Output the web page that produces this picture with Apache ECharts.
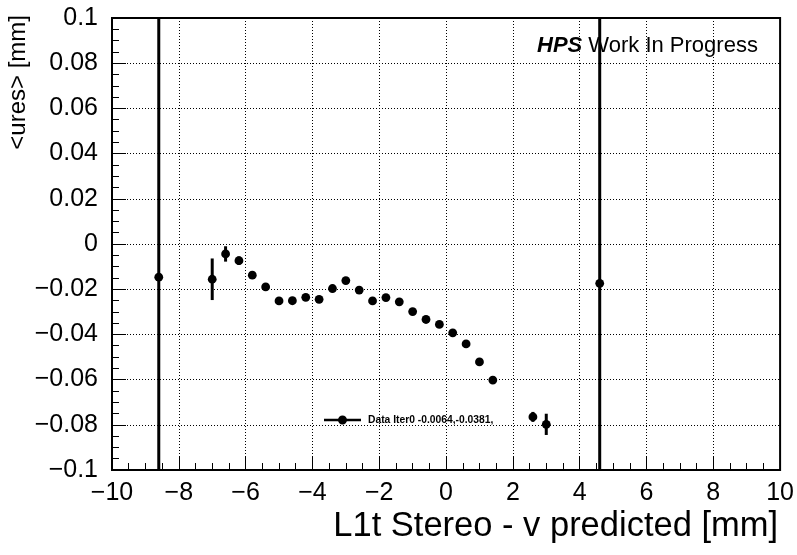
<!DOCTYPE html>
<html>
<head>
<meta charset="utf-8">
<script src="https://cdn.jsdelivr.net/npm/echarts@6/dist/echarts.min.js"></script>
<style>
html,body{margin:0;padding:0;background:#fff;}
#chart{width:797px;height:555px;}
</style>
</head>
<body>
<div id="chart"></div>
<script>
// Data
var xBins = [-8.6, -7.0, -6.6, -6.2, -5.8, -5.4, -5.0, -4.6, -4.2, -3.8, -3.4, -3.0, -2.6, -2.2, -1.8, -1.4, -1.0, -0.6, -0.2, 0.2, 0.6, 1.0, 1.4, 2.6, 3.0, 4.6];
var meanRes = [-0.0147, -0.0156, -0.0044, -0.0074, -0.0138, -0.0190, -0.0252, -0.0251, -0.0236, -0.0245, -0.0197, -0.0162, -0.0204, -0.0252, -0.0237, -0.0256, -0.0299, -0.0334, -0.0356, -0.0393, -0.0442, -0.0522, -0.0602, -0.0765, -0.0798, -0.0174];
var resErr = [1.0, 0.0092, 0.0034, 0.0019, 0.0014, 0.0014, 0.0012, 0.0012, 0.0012, 0.0012, 0.0012, 0.0014, 0.0012, 0.0012, 0.0012, 0.0012, 0.0012, 0.0012, 0.0012, 0.0012, 0.0012, 0.0012, 0.0014, 0.0022, 0.0047, 1.0];
var seriesName = 'Data Iter0 -0.0064,-0.0381,';
var xTitle = 'L1t Stereo - v predicted [mm]';
var yTitle = '<ures> [mm]';

var data = xBins.map(function (x, i) { return [x, meanRes[i], resErr[i]]; });

function rootLabel(v, digits) {
  var n = Number(v.toFixed(digits));
  var s = String(Math.abs(n));
  return (n < 0 ? '\u2212' : '') + s;
}

var chart = echarts.init(document.getElementById('chart'), null, {renderer: 'canvas'});
var font = '"Liberation Sans", Arial, Helvetica, sans-serif';

chart.setOption({
  animation: false,
  backgroundColor: '#fff',
  textStyle: {fontFamily: font},
  title: {
    text: '{b|HPS} Work In Progress',
    left: 532,
    top: 30,
    textStyle: {
      fontFamily: font,
      fontSize: 22,
      fontWeight: 'normal',
      color: '#000',
      rich: {
        b: {fontFamily: font, fontSize: 22, fontWeight: 'bold', fontStyle: 'italic', color: '#000'}
      }
    }
  },
  legend: {
    left: 319,
    top: 410,
    itemWidth: 37,
    itemHeight: 9,
    data: [{
      name: seriesName,
      icon: 'path://M0,3.3 H37 V5.7 H0 Z M14,4.5 A4.5,4.5 0 1,1 23,4.5 A4.5,4.5 0 1,1 14,4.5 Z'
    }],
    textStyle: {fontFamily: font, fontSize: 10.3, fontWeight: 'bold', color: '#000', padding: [0, 0, 0, 2]}
  },
  grid: {
    left: 112, right: 16, top: 18, bottom: 85,
    show: true, borderColor: '#000', borderWidth: 2, backgroundColor: 'transparent',
    containLabel: false
  },
  xAxis: {
    type: 'value',
    min: -10, max: 10, interval: 2,
    name: xTitle,
    nameLocation: 'end',
    nameGap: -2,
    nameTextStyle: {fontFamily: font, fontSize: 34.5, color: '#000', align: 'right', verticalAlign: 'top', padding: [39, 0, 0, 0]},
    axisLine: {show: true, onZero: false, lineStyle: {color: '#000', width: 2}},
    axisTick: {show: true, inside: true, length: 13, lineStyle: {color: '#000', width: 1}},
    minorTick: {show: true, splitNumber: 4, length: 7, lineStyle: {color: '#000', width: 1}},
    axisLabel: {fontFamily: font, fontSize: 25, color: '#000', margin: 11,
      formatter: function (v) { return rootLabel(v, 0); }},
    splitLine: {show: true, lineStyle: {color: '#000', width: 1, type: [1, 2]}}
  },
  yAxis: {
    type: 'value',
    min: -0.1, max: 0.1, interval: 0.02,
    axisLine: {show: true, onZero: false, lineStyle: {color: '#000', width: 2}},
    axisTick: {show: true, inside: true, length: 14, lineStyle: {color: '#000', width: 1}},
    minorTick: {show: true, splitNumber: 4, length: 7, lineStyle: {color: '#000', width: 1}},
    axisLabel: {fontFamily: font, fontSize: 25, color: '#000', margin: 14,
      formatter: function (v) { return rootLabel(v, 2); }},
    splitLine: {show: true, lineStyle: {color: '#000', width: 1, type: [1, 2]}}
  },
  graphic: [{
    type: 'text',
    x: 18, y: 15,
    rotation: Math.PI / 2,
    style: {text: yTitle, font: '24px ' + font, fill: '#000', align: 'right', verticalAlign: 'middle'}
  }],
  series: [{
    type: 'custom',
    name: seriesName,
    clip: true,
    itemStyle: {color: '#000'},
    data: data,
    encode: {x: 0, y: 1},
    renderItem: function (params, api) {
      var x = api.value(0), y = api.value(1), e = api.value(2);
      var p = api.coord([x, y]);
      var lo = api.coord([x, y - e]);
      var hi = api.coord([x, y + e]);
      return {
        type: 'group',
        children: [
          {type: 'line', shape: {x1: p[0], y1: hi[1], x2: p[0], y2: lo[1]}, style: {stroke: '#000', lineWidth: 3}},
          {type: 'circle', shape: {cx: p[0], cy: p[1], r: 4.4}, style: {fill: '#000'}}
        ]
      };
    }
  }]
});
</script>
</body>
</html>
